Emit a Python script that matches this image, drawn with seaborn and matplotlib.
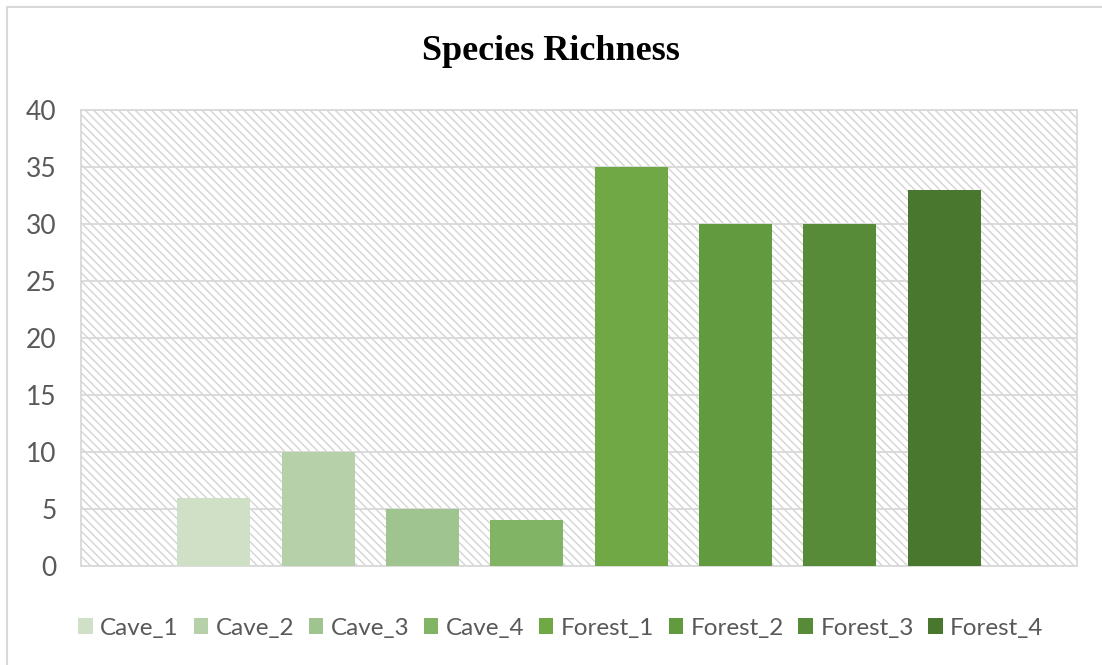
import matplotlib
matplotlib.use("Agg")
import matplotlib.pyplot as plt
from matplotlib.patches import Rectangle
from matplotlib.lines import Line2D
import seaborn as sns
import pandas as pd

# Species richness per sampling site
sites = ["Cave_1", "Cave_2", "Cave_3", "Cave_4",
         "Forest_1", "Forest_2", "Forest_3", "Forest_4"]
richness = [6, 10, 5, 4, 35, 30, 30, 33]
site_colors = ["#d0e0c6", "#b6d1aa", "#a0c48f", "#82b466",
               "#6fa845", "#629a40", "#588b38", "#4a772e"]
y_ticks = [0, 5, 10, 15, 20, 25, 30, 35, 40]
title = "Species Richness"

df = pd.DataFrame({"group": [""] * len(sites), "site": sites, "richness": richness})

sns.set_theme(style="white")
plt.rcParams["font.family"] = ["Lato", "DejaVu Sans"]
plt.rcParams["hatch.color"] = "#d4d4d4"
plt.rcParams["hatch.linewidth"] = 1.0

text_grey = "#595959"
grid_grey = "#d9d9d9"

fig = plt.figure(figsize=(11.02, 6.65), dpi=100)
ax = fig.add_axes([81 / 1102, 1 - 566 / 665, (1077 - 81) / 1102, (566 - 110) / 665])

# Diagonal-hatched plot background
ax.add_patch(Rectangle((0, 0), 1, 1, transform=ax.transAxes, facecolor="white",
                       edgecolor="#d4d4d4", hatch="\\\\\\\\", linewidth=0, zorder=0))

sns.barplot(data=df, x="group", y="richness", hue="site", hue_order=sites,
            palette=site_colors, width=0.838, gap=0.3, dodge=True,
            linewidth=0, saturation=1, ax=ax, zorder=3)

ax.set_ylim(0, 40)
ax.set_xlim(-0.5, 0.5)
ax.set_yticks(y_ticks)
ax.set_yticklabels([str(t) for t in y_ticks])
ax.set_xticks([])
ax.set_xlabel("")
ax.set_ylabel("")
ax.tick_params(axis="y", length=0, pad=17.5, labelsize=19, labelcolor=text_grey)
ax.yaxis.grid(True, color=grid_grey, linewidth=1.3, zorder=1)
ax.set_axisbelow(True)
for sp in ax.spines.values():
    sp.set_visible(True)
    sp.set_color(grid_grey)
    sp.set_linewidth(1.3)

fig.text(0.5, 1 - 51 / 665, title, ha="center", va="center",
         family=["Liberation Serif", "DejaVu Serif"], fontweight="bold",
         fontsize=26, color="black")

handles, labels = ax.get_legend_handles_labels()
if ax.get_legend() is not None:
    ax.get_legend().remove()
fig.legend(handles, labels, loc="center", bbox_to_anchor=(561 / 1102, 1 - 628 / 665),
           ncol=len(sites), frameon=False, fontsize=17.5, labelcolor=text_grey,
           handlelength=0.6, handleheight=0.6, handletextpad=0.3,
           columnspacing=0.6, borderaxespad=0)

# Chart frame along the left and top edges
fig.add_artist(Line2D([7 / 1102, 7 / 1102], [0, 1 - 7 / 665],
                      transform=fig.transFigure, color=grid_grey, linewidth=1.5))
fig.add_artist(Line2D([7 / 1102, 1], [1 - 7 / 665, 1 - 7 / 665],
                      transform=fig.transFigure, color=grid_grey, linewidth=1.5))

fig.savefig("out.png", dpi=100, facecolor="white")
